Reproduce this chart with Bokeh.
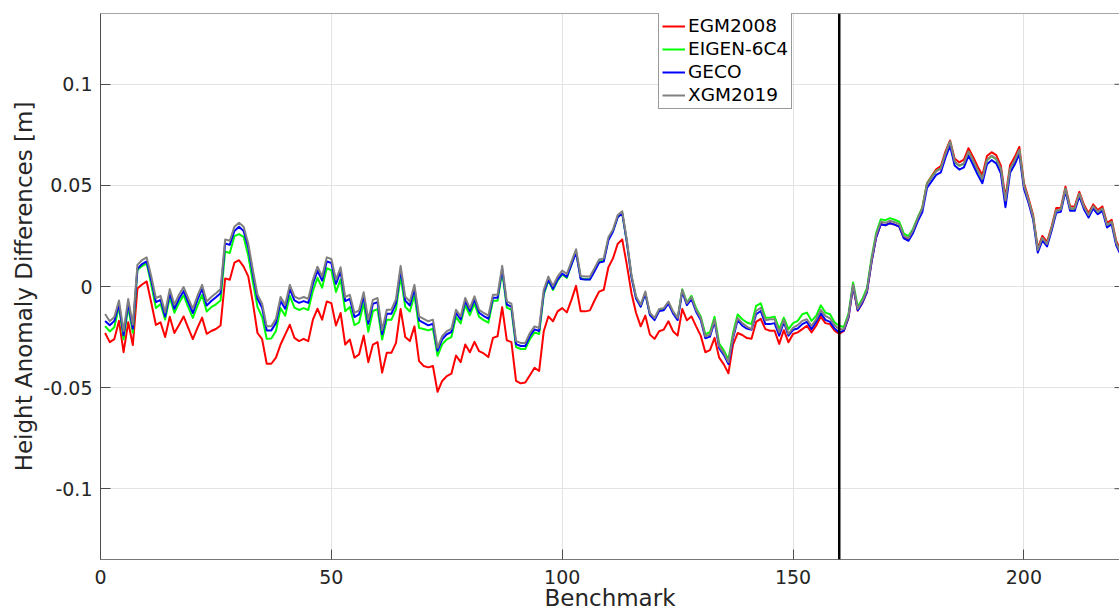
from bokeh.plotting import figure
from bokeh.models import (Range1d, FixedTicker, Span, Legend, LegendItem,
                          LinearAxis, CustomJSTickFormatter, ColumnDataSource)
from bokeh.embed import file_html
from bokeh.resources import INLINE

# Benchmark index along the levelling line
benchmark = list(range(1, 222))

# Height anomaly differences [m] per global geopotential model
egm2008 = [
    -0.0230, -0.0275, -0.0260, -0.0170, -0.0325, -0.0177, -0.0290, -0.0010, 0.0010, 0.0025,
    -0.0080, -0.0190, -0.0177, -0.0250, -0.0150, -0.0230, -0.0190, -0.0148, -0.0205, -0.0260,
    -0.0205, -0.0154, -0.0234, -0.0220, -0.0210, -0.0193, 0.0040, 0.0033, 0.0118, 0.0130,
    0.0098, 0.0050, -0.0080, -0.0230, -0.0260, -0.0382, -0.0382, -0.0352, -0.0287, -0.0238,
    -0.0189, -0.0254, -0.0270, -0.0259, -0.0270, -0.0164, -0.0110, -0.0164, -0.0074, -0.0082,
    -0.0193, -0.0131, -0.0287, -0.0262, -0.0352, -0.0336, -0.0243, -0.0374, -0.0287, -0.0275,
    -0.0426, -0.0328, -0.0328, -0.0279, -0.0111, -0.0250, -0.0270, -0.0197, -0.0369, -0.0393,
    -0.0400, -0.0393, -0.0521, -0.0467, -0.0443, -0.0431, -0.0341, -0.0374, -0.0287, -0.0325,
    -0.0274, -0.0320, -0.0331, -0.0349, -0.0254, -0.0246, -0.0102, -0.0266, -0.0275, -0.0467,
    -0.0479, -0.0475, -0.0439, -0.0402, -0.0418, -0.0221, -0.0148, -0.0172, -0.0123, -0.0107,
    -0.0128, -0.0066, 0.0003, -0.0123, -0.0123, -0.0118, -0.0069, -0.0025, -0.0016, 0.0095,
    0.0139, 0.0210, 0.0233, 0.0107, -0.0033, -0.0131, -0.0197, -0.0144, -0.0238, -0.0259,
    -0.0221, -0.0213, -0.0172, -0.0221, -0.0243, -0.0111, -0.0167, -0.0148, -0.0197, -0.0243,
    -0.0325, -0.0315, -0.0254, -0.0352, -0.0385, -0.0429, -0.0287, -0.0230, -0.0240, -0.0255,
    -0.0258, -0.0175, -0.0160, -0.0211, -0.0219, -0.0219, -0.0284, -0.0216, -0.0276, -0.0235,
    -0.0227, -0.0211, -0.0194, -0.0227, -0.0194, -0.0149, -0.0181, -0.0186, -0.0219, -0.0235,
    -0.0220, -0.0155, 0.0000, -0.0120, -0.0082, -0.0028, 0.0122, 0.0244, 0.0308, 0.0303,
    0.0313, 0.0306, 0.0296, 0.0240, 0.0232, 0.0275, 0.0337, 0.0390, 0.0510, 0.0545,
    0.0580, 0.0595, 0.0667, 0.0722, 0.0632, 0.0614, 0.0627, 0.0684, 0.0641, 0.0592,
    0.0550, 0.0645, 0.0664, 0.0650, 0.0598, 0.0440, 0.0600, 0.0640, 0.0690, 0.0512,
    0.0436, 0.0352, 0.0190, 0.0250, 0.0220, 0.0297, 0.0388, 0.0390, 0.0494, 0.0396,
    0.0396, 0.0468, 0.0404, 0.0362, 0.0406, 0.0378, 0.0396, 0.0314, 0.0330, 0.0225, 0.0175,
]

eigen_6c4 = [
    -0.0196, -0.0222, -0.0201, -0.0099, -0.0261, -0.0102, -0.0229, 0.0082, 0.0101, 0.0114,
    0.0009, -0.0107, -0.0086, -0.0164, -0.0053, -0.0130, -0.0081, -0.0043, -0.0102, -0.0155,
    -0.0096, -0.0042, -0.0124, -0.0102, -0.0088, -0.0069, 0.0173, 0.0166, 0.0249, 0.0259,
    0.0245, 0.0153, 0.0022, -0.0101, -0.0150, -0.0259, -0.0257, -0.0220, -0.0107, -0.0145,
    -0.0046, -0.0104, -0.0116, -0.0107, -0.0116, -0.0022, 0.0043, -0.0006, 0.0090, 0.0081,
    -0.0027, 0.0035, -0.0122, -0.0101, -0.0191, -0.0178, -0.0083, -0.0224, -0.0121, -0.0112,
    -0.0262, -0.0165, -0.0165, -0.0112, 0.0050, -0.0100, -0.0124, -0.0042, -0.0205, -0.0210,
    -0.0217, -0.0209, -0.0343, -0.0286, -0.0261, -0.0250, -0.0150, -0.0183, -0.0092, -0.0142,
    -0.0084, -0.0150, -0.0166, -0.0179, -0.0071, -0.0071, 0.0072, -0.0104, -0.0115, -0.0300,
    -0.0309, -0.0309, -0.0260, -0.0227, -0.0235, -0.0041, 0.0029, -0.0017, 0.0029, 0.0059,
    0.0042, 0.0108, 0.0174, 0.0040, 0.0036, 0.0036, 0.0080, 0.0124, 0.0129, 0.0235,
    0.0274, 0.0344, 0.0362, 0.0220, 0.0049, -0.0057, -0.0098, -0.0033, -0.0139, -0.0161,
    -0.0116, -0.0112, -0.0079, -0.0126, -0.0156, -0.0014, -0.0078, -0.0046, -0.0108, -0.0148,
    -0.0236, -0.0226, -0.0150, -0.0282, -0.0316, -0.0362, -0.0230, -0.0138, -0.0162, -0.0178,
    -0.0186, -0.0096, -0.0083, -0.0154, -0.0154, -0.0149, -0.0211, -0.0154, -0.0211, -0.0181,
    -0.0170, -0.0137, -0.0129, -0.0170, -0.0145, -0.0093, -0.0129, -0.0137, -0.0178, -0.0194,
    -0.0200, -0.0135, 0.0020, -0.0100, -0.0062, -0.0008, 0.0142, 0.0265, 0.0332, 0.0328,
    0.0338, 0.0330, 0.0320, 0.0262, 0.0249, 0.0286, 0.0342, 0.0390, 0.0508, 0.0541,
    0.0572, 0.0583, 0.0655, 0.0716, 0.0616, 0.0597, 0.0607, 0.0666, 0.0621, 0.0571,
    0.0530, 0.0624, 0.0645, 0.0629, 0.0580, 0.0415, 0.0580, 0.0621, 0.0673, 0.0498,
    0.0424, 0.0340, 0.0179, 0.0238, 0.0208, 0.0286, 0.0375, 0.0379, 0.0482, 0.0384,
    0.0384, 0.0457, 0.0392, 0.0351, 0.0395, 0.0367, 0.0384, 0.0302, 0.0318, 0.0213, 0.0163,
]

geco = [
    -0.0171, -0.0192, -0.0171, -0.0089, -0.0241, -0.0082, -0.0209, 0.0087, 0.0111, 0.0124,
    0.0029, -0.0077, -0.0066, -0.0148, -0.0033, -0.0110, -0.0061, -0.0023, -0.0077, -0.0131,
    -0.0066, -0.0012, -0.0094, -0.0072, -0.0053, -0.0033, 0.0213, 0.0206, 0.0275, 0.0295,
    0.0275, 0.0193, 0.0062, -0.0061, -0.0105, -0.0217, -0.0217, -0.0180, -0.0072, -0.0110,
    -0.0012, -0.0069, -0.0081, -0.0072, -0.0081, 0.0013, 0.0078, 0.0029, 0.0124, 0.0116,
    0.0013, 0.0075, -0.0072, -0.0061, -0.0151, -0.0138, -0.0048, -0.0184, -0.0086, -0.0077,
    -0.0236, -0.0135, -0.0135, -0.0082, 0.0082, -0.0070, -0.0094, -0.0012, -0.0168, -0.0180,
    -0.0192, -0.0184, -0.0318, -0.0261, -0.0236, -0.0225, -0.0130, -0.0163, -0.0072, -0.0122,
    -0.0064, -0.0130, -0.0146, -0.0159, -0.0056, -0.0056, 0.0087, -0.0089, -0.0100, -0.0285,
    -0.0294, -0.0294, -0.0245, -0.0212, -0.0220, -0.0031, 0.0034, -0.0012, 0.0034, 0.0064,
    0.0047, 0.0108, 0.0169, 0.0037, 0.0034, 0.0034, 0.0075, 0.0119, 0.0124, 0.0228,
    0.0272, 0.0342, 0.0362, 0.0220, 0.0047, -0.0059, -0.0100, -0.0035, -0.0141, -0.0166,
    -0.0121, -0.0117, -0.0084, -0.0133, -0.0166, -0.0026, -0.0092, -0.0062, -0.0125, -0.0166,
    -0.0256, -0.0248, -0.0174, -0.0305, -0.0338, -0.0384, -0.0256, -0.0166, -0.0194, -0.0208,
    -0.0214, -0.0137, -0.0121, -0.0186, -0.0186, -0.0181, -0.0243, -0.0175, -0.0243, -0.0214,
    -0.0208, -0.0186, -0.0175, -0.0211, -0.0175, -0.0132, -0.0165, -0.0175, -0.0208, -0.0227,
    -0.0218, -0.0153, 0.0002, -0.0118, -0.0080, -0.0026, 0.0122, 0.0243, 0.0308, 0.0303,
    0.0313, 0.0306, 0.0296, 0.0238, 0.0226, 0.0265, 0.0322, 0.0368, 0.0487, 0.0520,
    0.0552, 0.0564, 0.0637, 0.0697, 0.0598, 0.0578, 0.0589, 0.0647, 0.0601, 0.0552,
    0.0511, 0.0604, 0.0625, 0.0609, 0.0560, 0.0392, 0.0562, 0.0603, 0.0655, 0.0484,
    0.0413, 0.0330, 0.0168, 0.0228, 0.0198, 0.0276, 0.0365, 0.0369, 0.0472, 0.0374,
    0.0374, 0.0447, 0.0382, 0.0341, 0.0385, 0.0357, 0.0374, 0.0292, 0.0308, 0.0203, 0.0153,
]

xgm2019 = [
    -0.0136, -0.0172, -0.0151, -0.0069, -0.0221, -0.0062, -0.0189, 0.0107, 0.0131, 0.0144,
    0.0049, -0.0057, -0.0046, -0.0128, -0.0013, -0.0090, -0.0041, -0.0003, -0.0057, -0.0111,
    -0.0046, 0.0008, -0.0074, -0.0052, -0.0033, -0.0013, 0.0233, 0.0226, 0.0295, 0.0315,
    0.0295, 0.0213, 0.0082, -0.0041, -0.0085, -0.0197, -0.0197, -0.0160, -0.0052, -0.0090,
    0.0008, -0.0049, -0.0061, -0.0052, -0.0061, 0.0033, 0.0098, 0.0049, 0.0144, 0.0136,
    0.0033, 0.0095, -0.0052, -0.0041, -0.0131, -0.0118, -0.0028, -0.0164, -0.0066, -0.0057,
    -0.0216, -0.0115, -0.0115, -0.0062, 0.0102, -0.0050, -0.0074, 0.0008, -0.0148, -0.0160,
    -0.0172, -0.0164, -0.0303, -0.0246, -0.0221, -0.0210, -0.0115, -0.0148, -0.0057, -0.0107,
    -0.0049, -0.0115, -0.0131, -0.0144, -0.0041, -0.0041, 0.0102, -0.0074, -0.0085, -0.0270,
    -0.0279, -0.0279, -0.0230, -0.0197, -0.0205, -0.0016, 0.0049, 0.0003, 0.0049, 0.0079,
    0.0062, 0.0123, 0.0184, 0.0052, 0.0049, 0.0049, 0.0090, 0.0134, 0.0139, 0.0243,
    0.0282, 0.0352, 0.0372, 0.0230, 0.0057, -0.0049, -0.0090, -0.0025, -0.0131, -0.0156,
    -0.0111, -0.0107, -0.0074, -0.0123, -0.0156, -0.0016, -0.0082, -0.0052, -0.0115, -0.0156,
    -0.0246, -0.0238, -0.0164, -0.0295, -0.0328, -0.0374, -0.0246, -0.0156, -0.0181, -0.0198,
    -0.0211, -0.0121, -0.0105, -0.0167, -0.0162, -0.0162, -0.0227, -0.0165, -0.0235, -0.0203,
    -0.0191, -0.0170, -0.0162, -0.0194, -0.0162, -0.0116, -0.0145, -0.0158, -0.0191, -0.0211,
    -0.0210, -0.0145, 0.0010, -0.0110, -0.0072, -0.0018, 0.0132, 0.0255, 0.0320, 0.0315,
    0.0325, 0.0318, 0.0308, 0.0250, 0.0239, 0.0279, 0.0337, 0.0386, 0.0505, 0.0538,
    0.0570, 0.0582, 0.0655, 0.0717, 0.0618, 0.0598, 0.0609, 0.0667, 0.0623, 0.0574,
    0.0533, 0.0626, 0.0647, 0.0631, 0.0582, 0.0425, 0.0582, 0.0623, 0.0675, 0.0500,
    0.0426, 0.0342, 0.0181, 0.0240, 0.0210, 0.0288, 0.0377, 0.0381, 0.0484, 0.0386,
    0.0386, 0.0459, 0.0394, 0.0353, 0.0397, 0.0369, 0.0386, 0.0304, 0.0320, 0.0215, 0.0165,
]

model_names = ["EGM2008", "EIGEN-6C4", "GECO", "XGM2019"]
model_colors = ["#ff0000", "#00ff00", "#0000ff", "#808080"]

x_ticks = [0, 50, 100, 150, 200]
y_ticks = [-0.1, -0.05, 0, 0.05, 0.1]
split_benchmark = 160

X_START, X_END = 0, 220.7
Y_START, Y_END = -0.135, 0.135

FONT = "DejaVu Sans"
TEXT = "#262626"
AXIS = "#4d4d4d"

source = ColumnDataSource(dict(
    benchmark=benchmark, egm2008=egm2008, eigen_6c4=eigen_6c4,
    geco=geco, xgm2019=xgm2019,
))

p = figure(width=1119, height=616, output_backend="svg", toolbar_location=None,
           x_range=Range1d(X_START, X_END), y_range=Range1d(Y_START, Y_END),
           min_border_left=100, min_border_right=0,
           min_border_top=13, min_border_bottom=57)
p.background_fill_color = "white"
p.border_fill_color = "white"
p.outline_line_color = None

# axes: inward ticks, DejaVu labels
for ax in (p.xaxis[0], p.yaxis[0]):
    ax.axis_line_color = AXIS
    ax.axis_line_width = 1
    ax.major_tick_in = 10
    ax.major_tick_out = 0
    ax.major_tick_line_color = AXIS
    ax.minor_tick_line_color = None
    ax.major_label_text_font = FONT
    ax.major_label_text_font_size = "19px"
    ax.major_label_text_color = TEXT
    ax.axis_label_text_font = FONT
    ax.axis_label_text_font_size = "23px"
    ax.axis_label_text_font_style = "normal"
    ax.axis_label_text_color = TEXT

p.xaxis.ticker = FixedTicker(ticks=x_ticks)
p.yaxis.ticker = FixedTicker(ticks=y_ticks)
p.yaxis.formatter = CustomJSTickFormatter(code="return String(Number(tick.toFixed(3)));")
p.xaxis.axis_label = "Benchmark"
p.yaxis.axis_label = "Height Anomaly Differences [m]"
p.xaxis.major_label_standoff = 10
p.xaxis.axis_label_standoff = -2
p.xaxis.axis_label_text_baseline = "hanging"
p.yaxis.major_label_standoff = 8
p.yaxis.axis_label_standoff = 3
p.xaxis.axis_line_color = "#777777"

p.xgrid.ticker = FixedTicker(ticks=x_ticks)
p.ygrid.ticker = FixedTicker(ticks=y_ticks)
p.xgrid.grid_line_color = "#e3e3e3"
p.ygrid.grid_line_color = "#e3e3e3"

# box edge along the top
top_axis = LinearAxis(ticker=FixedTicker(ticks=[]), axis_line_color="#a6a6a6",
                      major_tick_in=0, major_tick_out=0, minor_tick_line_color=None)
p.add_layout(top_axis, "above")

# short inward ticks on the right edge of the box
tick_len = 5 * (X_END - X_START) / 1019
p.segment(x0=[X_END - tick_len] * len(y_ticks), x1=[X_END] * len(y_ticks),
          y0=y_ticks, y1=y_ticks, line_color=AXIS, line_width=1)

renderers = []
for col, color in zip(["egm2008", "eigen_6c4", "geco", "xgm2019"], model_colors):
    r = p.line("benchmark", col, source=source, line_color=color, line_width=2,
               line_join="round")
    renderers.append(r)

p.add_layout(Span(location=split_benchmark, dimension="height",
                  line_color="black", line_width=2.5))

legend = Legend(
    items=[LegendItem(label=n, renderers=[r]) for n, r in zip(model_names, renderers)],
    location=(558, 450),
    label_text_font=FONT, label_text_font_size="18.5px", label_text_color="#000000",
    glyph_width=23, glyph_height=20, label_height=20, label_standoff=3,
    spacing=2, padding=3, margin=0,
    border_line_color="#333333", border_line_width=1,
    background_fill_color="white", background_fill_alpha=1.0,
)
p.add_layout(legend)

open("out.html", "w").write(file_html(p, INLINE))
